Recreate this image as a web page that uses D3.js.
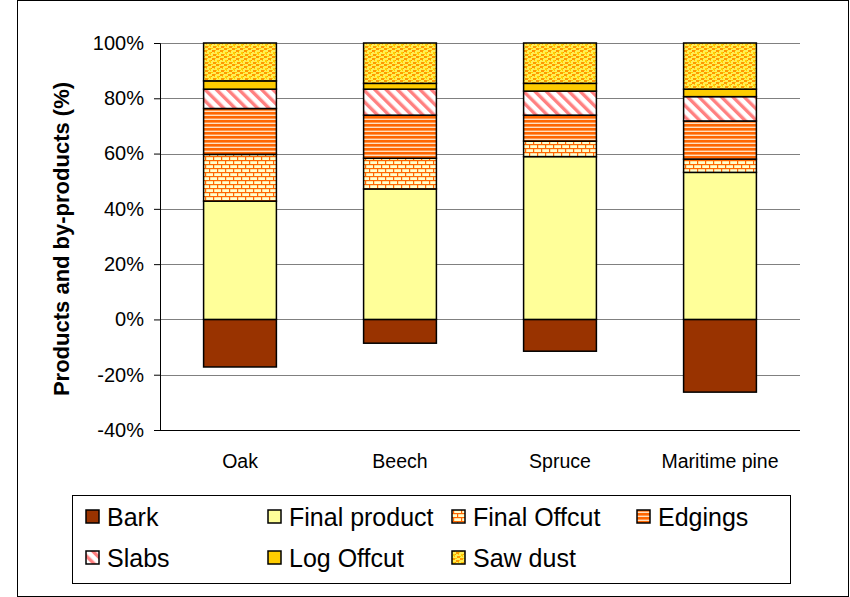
<!DOCTYPE html>
<html>
<head>
<meta charset="utf-8">
<script src="https://cdn.jsdelivr.net/npm/d3@7"></script>
<style>
  html, body { margin: 0; padding: 0; background: #fff; }
  svg { display: block; font-family: "Liberation Sans", Arial, sans-serif; }
</style>
</head>
<body>
<svg id="chart" width="850" height="597"></svg>
<script>
// Share of each product / by-product per wood species (%)
const categories = ["Oak", "Beech", "Spruce", "Maritime pine"];
const bark         = [-17.2, -8.6, -11.5, -26.3];
const finalProduct = [42.8, 47.2, 58.9, 53.2];
const finalOffcut  = [16.9, 11.1, 5.6, 4.8];
const edgings      = [16.6, 15.6, 9.4, 13.8];
const slabs        = [7.0, 9.4, 8.7, 8.8];
const logOffcut    = [3.0, 2.1, 2.8, 2.7];
const sawDust      = [13.7, 14.6, 14.6, 16.7];
const seriesNames  = ["Bark", "Final product", "Final Offcut", "Edgings", "Slabs", "Log Offcut", "Saw dust"];
const yTicks       = [-40, -20, 0, 20, 40, 60, 80, 100];

const seriesValues = [bark, finalProduct, finalOffcut, edgings, slabs, logOffcut, sawDust];
const rows = categories.map((c, i) => {
  const r = { category: c };
  seriesNames.forEach((s, k) => { r[s] = seriesValues[k][i]; });
  return r;
});

const svg = d3.select("#chart");

// fill patterns for the hatched series
const defs = svg.append("defs");

// brick pattern
const pBrick = defs.append("pattern").attr("id", "p-brick")
  .attr("patternUnits", "userSpaceOnUse").attr("width", 8).attr("height", 8);
pBrick.append("rect").attr("width", 8).attr("height", 8).attr("fill", "#FFFFCC");
pBrick.append("rect").attr("x", 0).attr("y", 0).attr("width", 8).attr("height", 1.2).attr("fill", "#FF6600");
pBrick.append("rect").attr("x", 0).attr("y", 4).attr("width", 8).attr("height", 1.2).attr("fill", "#FF6600");
pBrick.append("rect").attr("x", 1).attr("y", 0).attr("width", 1.2).attr("height", 4).attr("fill", "#FF6600");
pBrick.append("rect").attr("x", 5).attr("y", 4).attr("width", 1.2).attr("height", 4).attr("fill", "#FF6600");

// narrow horizontal stripes
const pStripe = defs.append("pattern").attr("id", "p-hstripe")
  .attr("patternUnits", "userSpaceOnUse").attr("width", 8).attr("height", 4);
pStripe.append("rect").attr("width", 8).attr("height", 4).attr("fill", "#FFE0C0");
pStripe.append("rect").attr("y", 0).attr("width", 8).attr("height", 2.6).attr("fill", "#FF6600");

// wide downward diagonal
const pDiag = defs.append("pattern").attr("id", "p-diag")
  .attr("patternUnits", "userSpaceOnUse").attr("width", 8).attr("height", 8)
  .attr("patternTransform", "rotate(-45)");
pDiag.append("rect").attr("width", 8).attr("height", 8).attr("fill", "#FFFFFF");
pDiag.append("rect").attr("x", 0).attr("y", 0).attr("width", 3.4).attr("height", 8).attr("fill", "#FF8080");

// confetti
const pConf = defs.append("pattern").attr("id", "p-confetti")
  .attr("patternUnits", "userSpaceOnUse").attr("width", 8).attr("height", 8);
pConf.append("rect").attr("width", 8).attr("height", 8).attr("fill", "#FFEE55");
[[0,0,3,2,"#FF9900"],[3,0,2,1,"#FFCC00"],[4,2,3,2,"#FF9900"],[7,2,1,1,"#FFCC00"],
 [1,4,2,2,"#FFCC00"],[3,4,1,1,"#FF9900"],[5,6,3,2,"#FF9900"],[0,6,1,1,"#FFCC00"],
 [6,4,1,1,"#FFCC00"],[2,6,1,1,"#FFCC00"]].forEach(d => {
  pConf.append("rect").attr("x", d[0]).attr("y", d[1]).attr("width", d[2]).attr("height", d[3]).attr("fill", d[4]);
});

const fills = {
  "Bark": "#993300",
  "Final product": "#FFFF99",
  "Final Offcut": "url(#p-brick)",
  "Edgings": "url(#p-hstripe)",
  "Slabs": "url(#p-diag)",
  "Log Offcut": "#FFCC00",
  "Saw dust": "url(#p-confetti)"
};

// outer chart frame
svg.append("rect").attr("x", 17.5).attr("y", 0.5).attr("width", 831).attr("height", 596)
  .attr("fill", "none").attr("stroke", "#000").attr("stroke-width", 1);

const plot = { left: 160, right: 800, top: 43, bottom: 430 };

const x = d3.scaleBand().domain(categories).range([plot.left, plot.right]).paddingInner(0.545).paddingOuter(0.2725);
const y = d3.scaleLinear().domain([-40, 100]).range([plot.bottom, plot.top]);

// gridlines
svg.append("g").selectAll("line").data(yTicks.filter(t => t !== -40)).join("line")
  .attr("x1", plot.left).attr("x2", plot.right)
  .attr("y1", d => Math.round(y(d)) + 0.5).attr("y2", d => Math.round(y(d)) + 0.5)
  .attr("stroke", "#808080").attr("stroke-width", 1);

// stacked bars
const stack = d3.stack().keys(seriesNames).offset(d3.stackOffsetDiverging);
const layers = stack(rows);

svg.append("g").selectAll("g").data(layers).join("g")
  .attr("fill", d => fills[d.key])
  .selectAll("rect").data(d => d).join("rect")
  .attr("x", d => x(d.data.category))
  .attr("width", x.bandwidth())
  .attr("y", d => y(Math.max(d[0], d[1])))
  .attr("height", d => Math.abs(y(d[0]) - y(d[1])))
  .attr("stroke", "#000").attr("stroke-width", 1.5);

// y axis
const yAxis = d3.axisLeft(y).tickValues(yTicks).tickFormat(d => d + "%").tickSize(6).tickPadding(10);
const gy = svg.append("g").attr("transform", `translate(${plot.left},0)`).call(yAxis);
gy.select(".domain").attr("stroke", "#000");
gy.selectAll(".tick line").attr("stroke", "#000");
gy.selectAll("text").attr("font-size", 20).attr("fill", "#000").attr("font-family", "Liberation Sans, Arial, sans-serif");

// x axis along the bottom of the plot
const xAxis = d3.axisBottom(x).tickSize(0).tickPadding(24);
const gx = svg.append("g").attr("transform", `translate(0,${plot.bottom})`).call(xAxis);
gx.select(".domain").attr("d", `M${plot.left},0.5H${plot.right}`).attr("stroke", "#000");
gx.selectAll("text").attr("font-size", 19.5).attr("fill", "#000").attr("font-family", "Liberation Sans, Arial, sans-serif");

// y axis title
svg.append("text")
  .attr("transform", `translate(69,239) rotate(-90)`)
  .attr("text-anchor", "middle")
  .attr("font-size", 22).attr("font-weight", "bold")
  .text("Products and by-products (%)");

// legend
const legend = { x: 72, y: 495, w: 718, h: 88 };
svg.append("rect").attr("x", legend.x + 0.5).attr("y", legend.y + 0.5)
  .attr("width", legend.w).attr("height", legend.h)
  .attr("fill", "#fff").attr("stroke", "#000").attr("stroke-width", 1);

const colX = [86, 268, 452, 637];
const rowY = [517, 558];
const lg = svg.append("g").selectAll("g").data(seriesNames).join("g")
  .attr("transform", (d, i) => `translate(${colX[i % 4]},${rowY[Math.floor(i / 4)]})`);
lg.append("rect").attr("x", 0).attr("y", -7).attr("width", 13).attr("height", 13)
  .attr("fill", d => fills[d]).attr("stroke", "#000").attr("stroke-width", 1.5);
lg.append("text").attr("x", 21).attr("y", 0).attr("dy", "0.35em")
  .attr("font-size", 25).text(d => d);
</script>
</body>
</html>
